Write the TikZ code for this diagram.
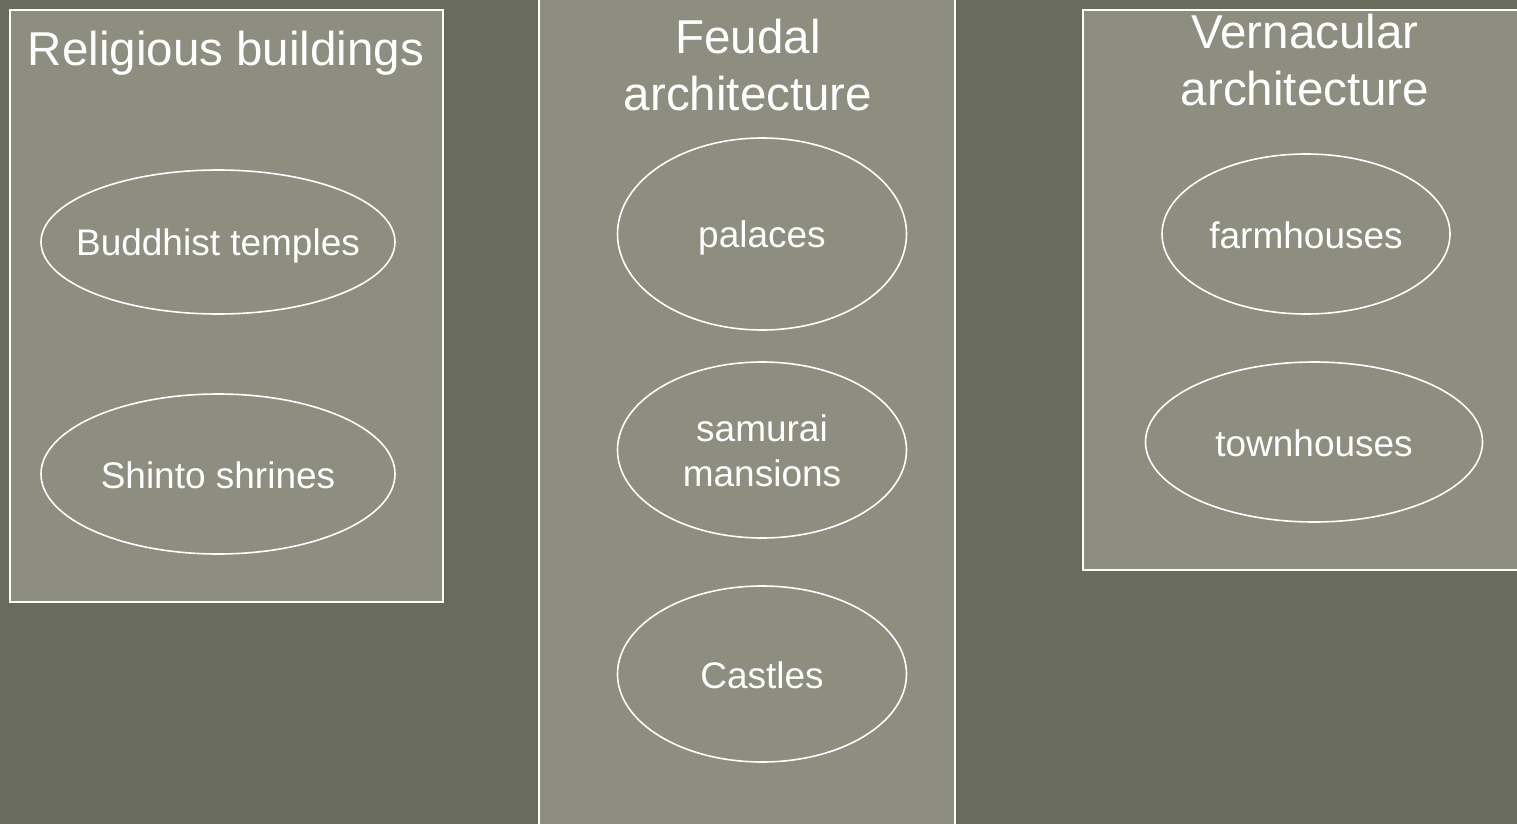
\documentclass[tikz,border=0pt]{standalone}
\usepackage{fontspec}
\setmainfont{Liberation Sans}
\definecolor{bgdark}{HTML}{696B5D}
\definecolor{panelgray}{HTML}{8E8E80}

\begin{document}
\begin{tikzpicture}[
  x=1pt,y=-1pt,
  panel/.style={draw=white,line width=2pt,fill=panelgray,inner sep=0pt},
  ring/.style={draw=white,line width=1.6pt},
  lbl/.style={text=white,align=center,inner sep=0pt,font=\fontsize{37}{44.5}\selectfont},
  ttl/.style={text=white,align=center,inner sep=0pt,font=\fontsize{47.5}{57}\selectfont}
]
\useasboundingbox (0,0) rectangle (1517,824);
\clip (0,0) rectangle (1517,824);
\fill[bgdark] (0,0) rectangle (1517,824);
% Panels
\node[panel,minimum width=433pt,minimum height=592pt] (relig) at (226.5,306) {};
\node[panel,minimum width=416pt,minimum height=864pt] (feud) at (747,412) {};
\node[panel,minimum width=460pt,minimum height=560pt] (vern) at (1313,290) {};
% Titles
\node[ttl,anchor=base] (religt) at (226,66) {Religious buildings};
\node[ttl,anchor=north] (feudt) at (748,19) {Feudal\\architecture};
\node[ttl,anchor=north] (vernt) at (1305,14) {Vernacular\\architecture};
% Column 1
\node[lbl] (budd) at (218,246) {Buddhist temples};
\node[lbl] (shin) at (218,475) {Shinto shrines};
\draw[ring] (218,242) ellipse [x radius=177pt,y radius=72pt];
\draw[ring] (218,474) ellipse [x radius=177pt,y radius=80pt];
% Column 2
\node[lbl] (pal) at (762,238) {palaces};
\node[lbl] (sam) at (762,451) {samurai\\mansions};
\node[lbl] (cast) at (762,675) {Castles};
\draw[ring] (762,234) ellipse [x radius=144.5pt,y radius=96pt];
\draw[ring] (762,450) ellipse [x radius=144.5pt,y radius=88pt];
\draw[ring] (762,674) ellipse [x radius=144.5pt,y radius=88pt];
% Column 3
\node[lbl] (farm) at (1306,235) {farmhouses};
\node[lbl] (town) at (1314,443) {townhouses};
\draw[ring] (1306,234) ellipse [x radius=144pt,y radius=80pt];
\draw[ring] (1314,442) ellipse [x radius=168.5pt,y radius=80pt];
\end{tikzpicture}
\end{document}
